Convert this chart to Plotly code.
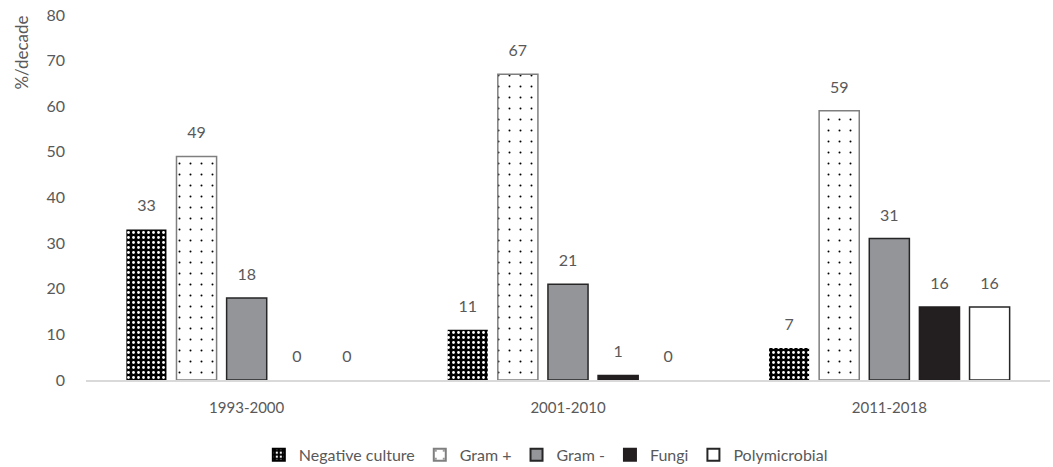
import plotly.graph_objects as go

periods = ["1993-2000", "2001-2010", "2011-2018"]
series_names = ["Negative culture", "Gram +", "Gram -", "Fungi", "Polymicrobial"]
negative_culture = [33, 11, 7]
gram_pos = [49, 67, 59]
gram_neg = [18, 21, 31]
fungi = [0, 1, 16]
polymicrobial = [0, 0, 16]

values = [negative_culture, gram_pos, gram_neg, fungi, polymicrobial]

styles = [
    dict(color="black", line_color="black", lw=0,
         pattern=dict(shape=".", bgcolor="black", fgcolor="white", size=5, solidity=0.25, fillmode="replace")),
    dict(color="white", line_color="#7f7f7f", lw=1.5,
         pattern=dict(shape=".", bgcolor="white", fgcolor="black", size=11, solidity=0.025, fillmode="replace")),
    dict(color="#939598", line_color="#262626", lw=1.5, pattern=None),
    dict(color="#231f20", line_color="#231f20", lw=1.5, pattern=None),
    dict(color="white", line_color="#262626", lw=1.5, pattern=None),
]

fig = go.Figure()
for name, vals, st in zip(series_names, values, styles):
    marker = dict(color=st["color"],
                  line=dict(color=st["line_color"], width=[st["lw"] if v > 0 else 0 for v in vals]))
    if st["pattern"]:
        marker["pattern"] = st["pattern"]
    fig.add_trace(go.Bar(
        x=periods, y=vals, name=name, marker=marker,
        text=[f"<span style='font-size:16px'>{v}</span><br> " for v in vals], textposition="outside",
        textfont=dict(color="#595959", size=10, family="Lato"),
        cliponaxis=False,
    ))

fig.update_layout(
    width=1053, height=467,
    margin=dict(l=86, r=3, t=15, b=87, autoexpand=False),
    paper_bgcolor="white", plot_bgcolor="white",
    barmode="group", bargap=0.22, bargroupgap=0.2,
    font=dict(family="Lato", color="#595959", size=15),
    showlegend=True,
    legend=dict(orientation="h", x=0.477, xanchor="center", y=-0.205, yanchor="middle",
                font=dict(size=16, color="#595959"), itemsizing="constant"),
    xaxis=dict(showline=True, linecolor="#d9d9d9", linewidth=1.5, ticks="",
               tickfont=dict(size=15, color="#595959"), showgrid=False, ticklabelstandoff=13),
    yaxis=dict(range=[0, 80], dtick=10, showgrid=False, showline=False, zeroline=False,
               ticks="", tickfont=dict(size=16, color="#595959"), ticklabelstandoff=20),
    annotations=[dict(text="%/decade", textangle=-90, xref="paper", yref="paper",
                      x=-0.067, y=1.005, xanchor="center", yanchor="top", showarrow=False,
                      font=dict(size=17, color="#595959"))],
)

fig.write_html("out.html", config={"displayModeBar": False},
               post_script="document.body.style.margin='0';")
